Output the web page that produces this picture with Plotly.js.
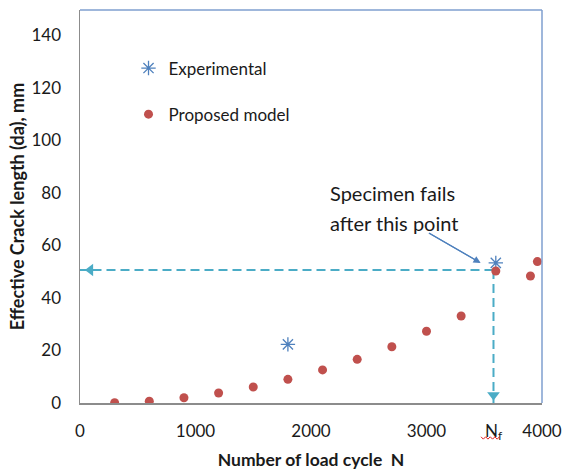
<!DOCTYPE html>
<html>
<head>
<meta charset="utf-8">
<script src="https://cdn.plot.ly/plotly-3.0.1.min.js"></script>
<style>html,body{margin:0;padding:0;background:#fff;}#chart{width:563px;height:470px;}</style>
</head>
<body>
<div id="chart"></div>
<script>
// Data
const modelN = [300, 600, 900, 1200, 1500, 1800, 2100, 2400, 2700, 3000, 3300, 3600, 3900, 3960];
const modelA = [0.1, 0.7, 2.0, 3.8, 6.1, 9.0, 12.6, 16.6, 21.4, 27.3, 33.1, 50.2, 48.3, 53.8];
const expN = [1800, 3600];
const expA = [22.3, 53.3];
const failN = 3580;   // N_f
const failA = 50.6;   // crack length at failure
const xTickVals = [0, 1000, 2000, 3000, 4000];
const yTickVals = [0, 20, 40, 60, 80, 100, 120, 140];

const FONT = 'Lato, "Open Sans", sans-serif';
const cyan = '#4bacc6';
const arrowBlue = '#4f81bd';

const traces = [
  { x: [failN, 0], y: [failA, failA], mode: 'lines', line: {color: cyan, width: 2, dash: '9px,5px'}, showlegend: false, hoverinfo: 'skip' },
  { x: [failN, failN], y: [failA, 0], mode: 'lines', line: {color: cyan, width: 2, dash: '9px,5px'}, showlegend: false, hoverinfo: 'skip' },
  { x: [90], y: [failA], mode: 'markers', marker: {symbol: 'triangle-left', size: 11, color: cyan}, showlegend: false, hoverinfo: 'skip' },
  { x: [failN], y: [3], mode: 'markers', marker: {symbol: 'triangle-down', size: 11, color: cyan}, showlegend: false, hoverinfo: 'skip' },
  { x: expN, y: expA, name: 'Experimental', mode: 'markers', legendgroup: 'a',
    marker: {symbol: 'asterisk-open', size: 12, color: '#4f81bd', line: {color: '#4f81bd', width: 1.3}} },
  { x: modelN, y: modelA, name: 'Proposed model', mode: 'markers', legendgroup: 'b',
    marker: {symbol: 'circle', size: 9, color: '#c0504d'} }
];

const tickText = xTickVals.map(String);
const layout = {
  width: 563, height: 470,
  margin: {l: 80, r: 21, t: 10, b: 67},
  paper_bgcolor: '#fff', plot_bgcolor: '#fff',
  font: {family: FONT, color: '#1a1a1a'},
  showlegend: true,
  legend: {x: 0.105, y: 0.897, xanchor: 'left', yanchor: 'top', bgcolor: 'rgba(0,0,0,0)',
           itemwidth: 30,
           font: {family: FONT, size: 17, color: '#1a1a1a'}, traceorder: 'grouped', tracegroupgap: 21},
  xaxis: {
    range: [0, 4000], showgrid: false, zeroline: false,
    showline: true, linecolor: '#8c8c8c', linewidth: 1.5,
    tickmode: 'array', tickvals: xTickVals.concat([failN]), ticktext: tickText.concat(['N<sub>f</sub>']),
    ticks: '', ticklabelstandoff: 12,
    tickfont: {family: FONT, size: 17, color: '#1a1a1a'},
    title: {text: '<b>Number of load cycle  N</b>', font: {family: FONT, size: 17.5, color: '#1a1a1a'}, standoff: 12}
  },
  yaxis: {
    range: [0, 149.5], showgrid: false, zeroline: false,
    showline: true, linecolor: '#8c8c8c', linewidth: 1.5,
    tickmode: 'array', tickvals: yTickVals,
    ticks: '', ticklabelstandoff: 14,
    tickfont: {family: FONT, size: 17, color: '#1a1a1a'},
    title: {text: '<b>Effective Crack length (da), mm</b>', font: {family: FONT, size: 18, color: '#1a1a1a'}, standoff: 2}
  },
  shapes: [
    {type: 'line', xref: 'paper', yref: 'paper', x0: 0, x1: 1, y0: 1, y1: 1, line: {color: '#7f9fcf', width: 1.5}},
    {type: 'line', xref: 'paper', yref: 'paper', x0: 1, x1: 1, y0: 0, y1: 1, line: {color: '#7f9fcf', width: 1.5}},
    {type: 'line', xref: 'x', yref: 'y', x0: 3020, y0: 64.7, x1: 3440, y1: 54.0, line: {color: arrowBlue, width: 1.2}},
    {type: 'path', xref: 'paper', yref: 'paper',
     path: 'M0.868,-0.086 L0.873,-0.092 L0.878,-0.086 L0.883,-0.092 L0.888,-0.086 L0.893,-0.092 L0.898,-0.086 L0.903,-0.092 L0.908,-0.086',
     line: {color: '#e02020', width: 1}}
  ],
  annotations: [
    {x: 2151, y: 79.9, xref: 'x', yref: 'y', xanchor: 'left', yanchor: 'middle', showarrow: false,
     text: 'Specimen fails', font: {family: FONT, size: 20, color: '#1a1a1a'}},
    {x: 2151, y: 68.5, xref: 'x', yref: 'y', xanchor: 'left', yanchor: 'middle', showarrow: false,
     text: 'after this point', font: {family: FONT, size: 20, color: '#1a1a1a'}},
    {x: 3469, y: 53.3, xref: 'x', yref: 'y', axref: 'x', ayref: 'y', ax: 3020, ay: 64.7,
     text: ' ', font: {size: 1}, borderpad: 0, showarrow: true,
     arrowhead: 2, arrowsize: 1.2, arrowwidth: 1.2, arrowcolor: arrowBlue}
  ]
};

Plotly.newPlot('chart', traces, layout, {displayModeBar: false, staticPlot: true});
</script>
</body>
</html>
